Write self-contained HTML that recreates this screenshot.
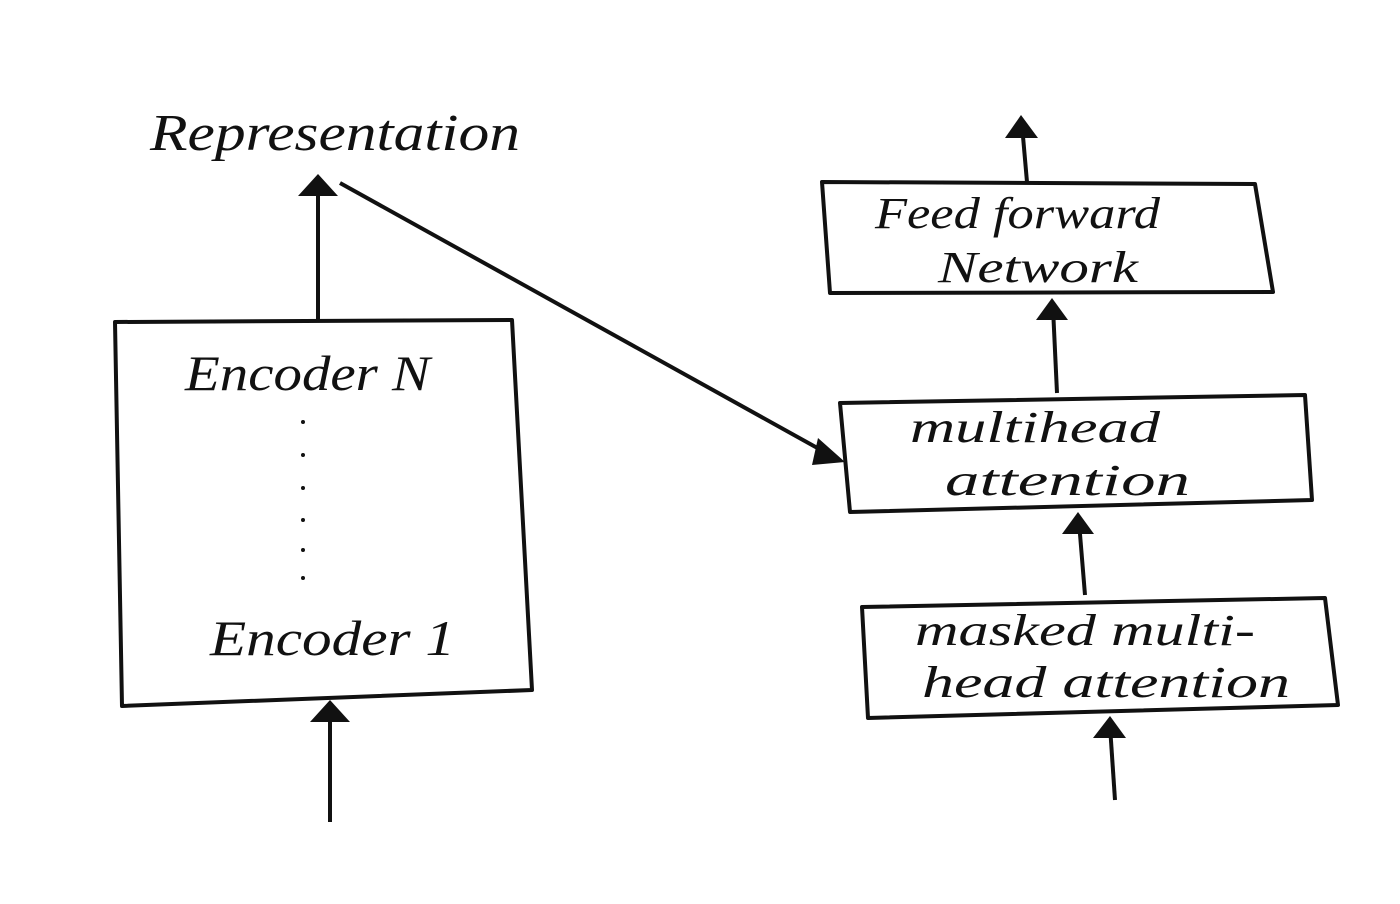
<!DOCTYPE html>
<html><head><meta charset="utf-8"><style>
html,body{margin:0;padding:0;background:#fff;width:1400px;height:904px;overflow:hidden}
text{font-family:"Liberation Serif",serif;font-style:italic;fill:#111}
</style></head><body>
<svg width="1400" height="904" viewBox="0 0 1400 904" xmlns="http://www.w3.org/2000/svg">
<g fill="none" stroke="#111" stroke-width="4" stroke-linejoin="round">
<polygon points="115,322 512,320 532,690 122,706"/>
<polygon points="822,182 1255,184 1273,292 830,293"/>
<polygon points="840,403 1305,395 1312,500 850,512"/>
<polygon points="862,607 1325,598 1338,705 868,718"/>
<line x1="330" y1="822" x2="330" y2="712"/>
<line x1="318" y1="320" x2="318" y2="186"/>
<line x1="340" y1="183" x2="830" y2="455"/>
<line x1="1027" y1="182" x2="1022" y2="125"/>
<line x1="1057" y1="393" x2="1053" y2="308"/>
<line x1="1085" y1="595" x2="1079" y2="522"/>
<line x1="1115" y1="800" x2="1110" y2="726"/>
</g>
<g fill="#111">
<polygon points="330,700 310,722 350,722"/>
<polygon points="318,174 298,196 338,196"/>
<polygon points="1021,115 1005,138 1038,138"/>
<polygon points="1052,298 1036,320 1068,320"/>
<polygon points="1078,512 1062,534 1094,534"/>
<polygon points="1110,716 1093,738 1126,738"/>
<polygon points="845,462 818,438 812,465"/>
</g>
<g fill="#111">
<circle cx="303" cy="422" r="2"/><circle cx="303" cy="455" r="2"/><circle cx="303" cy="488" r="2"/>
<circle cx="303" cy="520" r="2"/><circle cx="303" cy="550" r="2"/><circle cx="303" cy="578" r="2"/>
</g>
<text x="150" y="150" font-size="52" textLength="370" lengthAdjust="spacingAndGlyphs">Representation</text>
<text x="185" y="390" font-size="50" textLength="245" lengthAdjust="spacingAndGlyphs">Encoder N</text>
<text x="210" y="655" font-size="50" textLength="245" lengthAdjust="spacingAndGlyphs">Encoder 1</text>
<text x="875" y="228" font-size="44" textLength="285" lengthAdjust="spacingAndGlyphs">Feed forward</text>
<text x="938" y="282" font-size="44" textLength="200" lengthAdjust="spacingAndGlyphs">Network</text>
<text x="910" y="442" font-size="44" textLength="250" lengthAdjust="spacingAndGlyphs">multihead</text>
<text x="945" y="495" font-size="44" textLength="245" lengthAdjust="spacingAndGlyphs">attention</text>
<text x="915" y="645" font-size="44" textLength="340" lengthAdjust="spacingAndGlyphs">masked multi-</text>
<text x="922" y="697" font-size="44" textLength="368" lengthAdjust="spacingAndGlyphs">head  attention</text>
</svg>
</body></html>
